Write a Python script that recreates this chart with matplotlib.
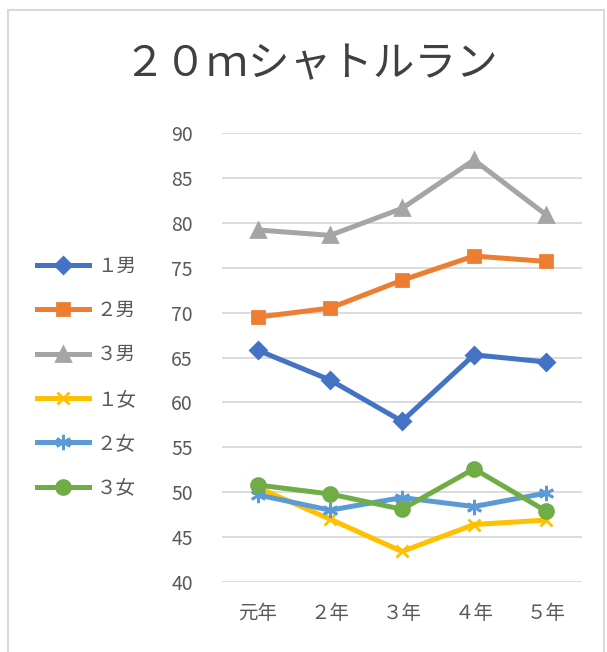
import matplotlib
matplotlib.use("Agg")
import matplotlib.pyplot as plt
from matplotlib.patches import Rectangle

plt.rcParams['font.family'] = ['Noto Sans CJK JP', 'DejaVu Sans']

# data
years = ["元年", "２年", "３年", "４年", "５年"]
boys1 = [65.8, 62.5, 57.9, 65.3, 64.5]
boys2 = [69.5, 70.5, 73.6, 76.3, 75.7]
boys3 = [79.2, 78.6, 81.6, 87.0, 80.9]
girls1 = [50.5, 47.0, 43.4, 46.4, 46.9]
girls2 = [49.7, 48.0, 49.4, 48.4, 49.9]
girls3 = [50.8, 49.8, 48.1, 52.6, 47.9]
labels = ["１男", "２男", "３男", "１女", "２女", "３女"]

series = [boys1, boys2, boys3, girls1, girls2, girls3]
colors = ["#4472C4", "#ED7D31", "#A5A5A5", "#FFC000", "#5B9BD5", "#70AD47"]
markers = ["D", "s", "^", "x", (6, 2, 0), "o"]
msizes = [8, 8, 10, 9, 11, 10]

fig = plt.figure(figsize=(6.07, 6.52), dpi=100)
ax = fig.add_axes([222 / 607, 70 / 652, 360 / 607, 449 / 652])

x = range(len(years))
for vals, lab, c, m, ms in zip(series, labels, colors, markers, msizes):
    ax.plot(x, vals, color=c, lw=3.6, marker=m, markersize=ms,
            markeredgewidth=2, markeredgecolor=c, label=lab)

ax.set_xlim(-0.5, len(years) - 0.5)
ax.set_ylim(40, 90)
ax.set_yticks(range(40, 91, 5))
ax.set_xticks(list(x))
ax.set_xticklabels(years)
ax.tick_params(axis="both", length=0, labelsize=14, colors="#595959")
ax.tick_params(axis="y", pad=21)
ax.tick_params(axis="x", pad=15)
ax.grid(axis="y", color="#D9D9D9", lw=1.3)
ax.set_axisbelow(True)
for s in ax.spines.values():
    s.set_visible(False)

fig.text(311 / 607, 1 - 65 / 652, "２０ｍシャトルラン", ha="center", va="center",
         fontsize=30, color="#404040")

fig.legend(loc="center left", bbox_to_anchor=(19 / 607, 1 - 377 / 652),
           frameon=False, fontsize=14, handlelength=2.7, labelspacing=1.2,
           handletextpad=0.4, labelcolor="#595959")

# light frame round the chart, like the screenshot
fig.patches.append(Rectangle((8 / 607, -0.01), 596 / 607, 1 - 10 / 652 + 0.01,
                             transform=fig.transFigure, fill=False,
                             edgecolor="#D9D9D9", lw=1.5))

fig.savefig("out.png", dpi=100)
